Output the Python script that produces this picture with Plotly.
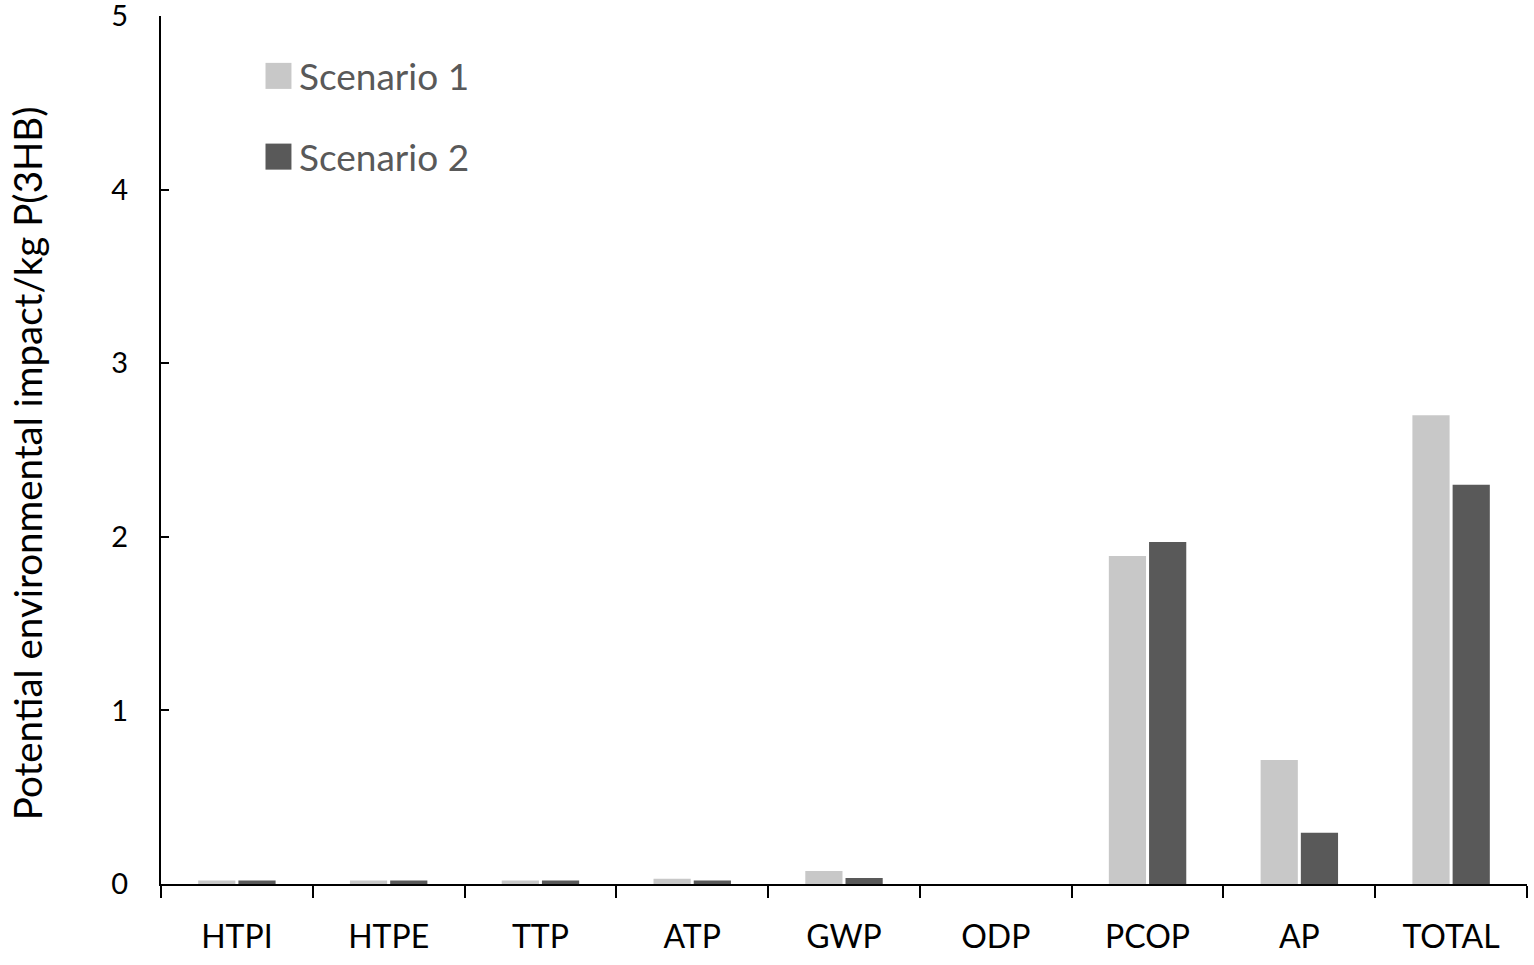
import plotly.graph_objects as go

categories = ["HTPI", "HTPE", "TTP", "ATP", "GWP", "ODP", "PCOP", "AP", "TOTAL"]
scenario1 = [0.02, 0.02, 0.02, 0.03, 0.075, 0.0, 1.89, 0.715, 2.70]
scenario2 = [0.02, 0.02, 0.02, 0.02, 0.035, 0.0, 1.97, 0.295, 2.30]
series_names = ["Scenario 1", "Scenario 2"]
series_colors = ["#c8c8c8", "#595959"]
y_ticks = [0, 1, 2, 3, 4, 5]
y_title = "Potential environmental impact/kg P(3HB)"

FONT = "Lato"

fig = go.Figure()
for name, vals, col in zip(series_names, [scenario1, scenario2], series_colors):
    fig.add_trace(go.Bar(x=categories, y=vals, name=name, marker=dict(color=col, line=dict(width=0)),
                         showlegend=False))

# legend drawn as swatches + text in paper space
legend_y = [0.931, 0.838]
for name, col, ly in zip(series_names, series_colors, legend_y):
    fig.add_shape(type="rect", xref="paper", yref="paper",
                  x0=0.0765, x1=0.0955, y0=ly - 0.015, y1=ly + 0.015,
                  fillcolor=col, line=dict(width=0))
    fig.add_annotation(text=name, xref="paper", yref="paper", x=0.0995, y=ly,
                       xanchor="left", yanchor="middle", showarrow=False,
                       font=dict(family=FONT, size=37, color="#595959"))

# y-axis title (rotated text)
fig.add_annotation(text=y_title, xref="paper", yref="paper", x=-0.098, y=0.485,
                   xanchor="center", yanchor="middle", textangle=-90, showarrow=False,
                   font=dict(family=FONT, size=38.5, color="black"))

fig.update_layout(
    width=1534, height=965,
    margin=dict(l=161, r=7, t=16, b=81, autoexpand=False),
    plot_bgcolor="white", paper_bgcolor="white",
    barmode="group", bargap=0.47, bargroupgap=0.075,
    font=dict(family=FONT, size=32, color="black"),
    showlegend=False,
)
fig.update_xaxes(
    automargin=False,
    showline=True, linecolor="black", linewidth=2,
    ticks="outside", tickson="boundaries", ticklen=12, tickwidth=2, tickcolor="black",
    showgrid=False, tickfont=dict(family=FONT, size=32, color="black"),
    ticklabelstandoff=24,
)
fig.update_yaxes(
    automargin=False,
    range=[0, 5], tickvals=y_ticks, showline=True, linecolor="black", linewidth=2,
    ticks="inside", ticklen=8, tickwidth=2, tickcolor="black",
    showgrid=False, zeroline=False, tickfont=dict(family=FONT, size=29, color="black"),
    ticklabelstandoff=25, ticklabeloverflow="allow",
)
fig.write_html("out.html", config={"displayModeBar": False},
               post_script="document.body.style.margin='0';")
